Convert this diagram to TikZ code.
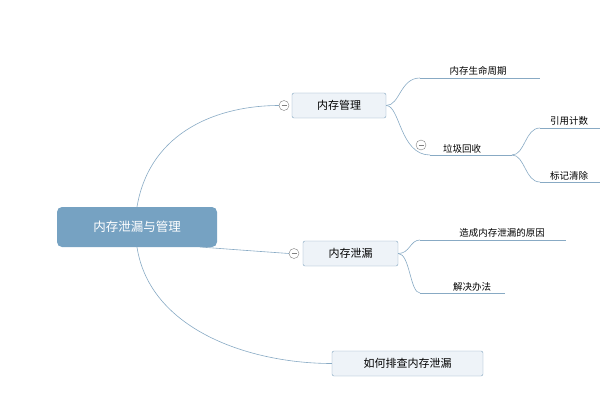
\documentclass[tikz,border=0pt]{standalone}
\usepackage{fontspec}
\setmainfont{Noto Sans CJK SC}
\definecolor{rootfill}{HTML}{76A2C2}
\definecolor{boxfill}{HTML}{EEF3F8}
\definecolor{boxline}{HTML}{7FA3BE}
\definecolor{linkline}{HTML}{88AAC4}
\tikzset{
  rootbox/.style={draw=none,fill=rootfill,rounded corners=5pt,text=white,font=\fontsize{12.5}{14}\selectfont,minimum width=160pt,minimum height=40pt},
  topicbox/.style={draw=boxline,fill=boxfill,rounded corners=2pt,font=\fontsize{11}{13}\selectfont,minimum height=25pt},
  leaftext/.style={font=\fontsize{9.5}{11}\selectfont,anchor=south,inner sep=2pt},
  link/.style={draw=linkline,line width=0.6pt},
  foldmark/.style={draw=gray,fill=white,circle,inner sep=0pt,minimum size=10pt}
}
\begin{document}
\begin{tikzpicture}[x=1pt,y=-1pt]
  \useasboundingbox (0,0) rectangle (616,420);
  % main nodes
  \node[rootbox] (root) at (137,227) {内存泄漏与管理};
  \node[topicbox,minimum width=94pt] (mgmt) at (339,105.5) {内存管理};
  \node[topicbox,minimum width=95pt] (leak) at (350.5,253.5) {内存泄漏};
  \node[topicbox,minimum width=151pt] (check) at (407.5,363.5) {如何排查内存泄漏};
  \node[foldmark] (mgmtfold) at (284,105.5) {};
  \node[foldmark] (leakfold) at (294,253.5) {};
  % root links
  \draw[link] (root.north) .. controls (150,130) and (220,105.5) .. (mgmtfold.west);
  \draw[link] (200,247) .. controls (240,250) .. (leakfold.west);
  \draw[link] (root.south) .. controls (150,330) and (250,363.5) .. (check.west);
  % memory management
  \coordinate (lifeA) at (420,78);
  \coordinate (lifeB) at (540,78);
  \node[leaftext] (life) at (478,78) {内存生命周期};
  \draw[link] (lifeA) -- (lifeB);
  \draw[link] (mgmt.east) .. controls (400,105.5) and (400,78) .. (lifeA);
  \coordinate (gcA) at (430,155);
  \coordinate (gcB) at (512,155);
  \node[leaftext] (gc) at (462,155) {垃圾回收};
  \node[foldmark] (gcfold) at (421,145) {};
  \draw[link] (gcA) -- (gcB);
  \draw[link] (mgmt.east) .. controls (400,105.5) and (400,155) .. (gcA);
  \coordinate (refA) at (540,128);
  \coordinate (refB) at (600,128);
  \node[leaftext] (ref) at (569,128) {引用计数};
  \draw[link] (refA) -- (refB);
  \draw[link] (gcB) .. controls (525,155) and (525,128) .. (refA);
  \coordinate (markA) at (540,182);
  \coordinate (markB) at (600,182);
  \node[leaftext] (mark) at (569,182) {标记清除};
  \draw[link] (markA) -- (markB);
  \draw[link] (gcB) .. controls (525,155) and (525,182) .. (markA);
  % memory leak
  \coordinate (causeA) at (420,240);
  \coordinate (causeB) at (566,240);
  \node[leaftext] (cause) at (502,240) {造成内存泄漏的原因};
  \draw[link] (causeA) -- (causeB);
  \draw[link] (leak.east) .. controls (410,253.5) and (410,240) .. (causeA);
  \coordinate (fixA) at (420,293);
  \coordinate (fixB) at (505,293);
  \node[leaftext] (fix) at (472,293) {解决办法};
  \draw[link] (fixA) -- (fixB);
  \draw[link] (leak.east) .. controls (410,253.5) and (410,293) .. (fixA);
  % fold marks
  \foreach \f in {mgmtfold,leakfold,gcfold}
    \draw[gray] ([xshift=-2.5pt]\f.center) -- ([xshift=2.5pt]\f.center);
\end{tikzpicture}
\end{document}
